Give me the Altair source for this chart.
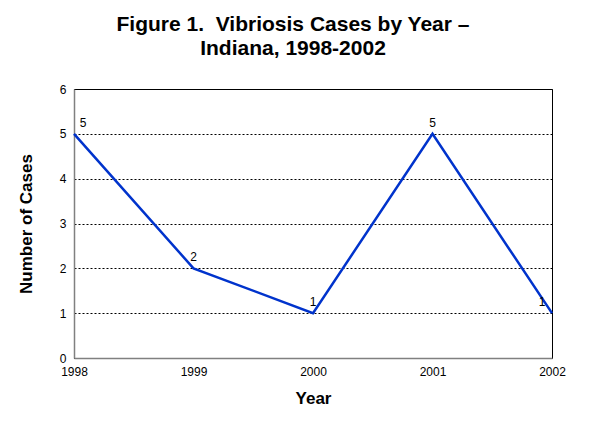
import altair as alt
import pandas as pd

years = [1998, 1999, 2000, 2001, 2002]
cases = [5, 2, 1, 5, 1]
y_ticks = [0, 1, 2, 3, 4, 5, 6]
x_ticks = [1998, 1999, 2000, 2001, 2002]

df = pd.DataFrame({"Year": years, "Cases": cases})

FONT = "Liberation Sans"

x_enc = alt.X("Year:Q",
              scale=alt.Scale(domain=[1998, 2002], nice=False, zero=False),
              axis=alt.Axis(values=x_ticks, format="d", title="Year", grid=False,
                            ticks=False, labelPadding=8, labelFontSize=12,
                            labelColor="black", labelFont=FONT,
                            titleFont=FONT, titleFontSize=17, titleFontWeight="bold",
                            titleColor="black", titlePadding=13,
                            domainColor="#808080", domainWidth=1.5,
                            labelFlush=False))
y_enc = alt.Y("Cases:Q",
              scale=alt.Scale(domain=[0, 6], nice=False),
              axis=alt.Axis(values=y_ticks, title="Number of Cases", grid=True,
                            gridColor="black", gridDash=[2, 2], gridWidth=1,
                            ticks=False, labelPadding=8, labelFontSize=12,
                            labelColor="black", labelFont=FONT,
                            titleFont=FONT, titleFontSize=17, titleFontWeight="bold",
                            titleColor="black", titlePadding=24,
                            domainColor="#808080", domainWidth=1.5))

base = alt.Chart(df)

line = base.mark_line(color="#0033cc", strokeWidth=2.5).encode(x=x_enc, y=y_enc)

txt_common = dict(font=FONT, fontSize=12, color="black", baseline="alphabetic", dy=-7)
labels_mid = base.transform_filter(
    (alt.datum.Year > 1998) & (alt.datum.Year < 2002)
).mark_text(**txt_common).encode(x="Year:Q", y="Cases:Q", text="Cases:Q")
labels_first = base.transform_filter(alt.datum.Year == 1998).mark_text(
    dx=9, **txt_common).encode(x="Year:Q", y="Cases:Q", text="Cases:Q")
labels_last = base.transform_filter(alt.datum.Year == 2002).mark_text(
    dx=-10, **txt_common).encode(x="Year:Q", y="Cases:Q", text="Cases:Q")

chart = alt.layer(line, labels_mid, labels_first, labels_last).properties(
    width=478,
    height=269,
    title=alt.TitleParams(
        text=["Figure 1.\u00a0\u00a0Vibriosis Cases by Year \u2013", "Indiana, 1998-2002"],
        font=FONT, fontSize=21, fontWeight="bold", color="black",
        anchor="middle", dx=-20, offset=24, lineHeight=24,
    ),
    autosize=alt.AutoSizeParams(type="none"),
    padding={"left": 66, "top": 81, "right": 40, "bottom": 50},
).configure_view(stroke="black", strokeWidth=1)

chart.save("out.html", embed_options={"renderer": "svg", "actions": False})
